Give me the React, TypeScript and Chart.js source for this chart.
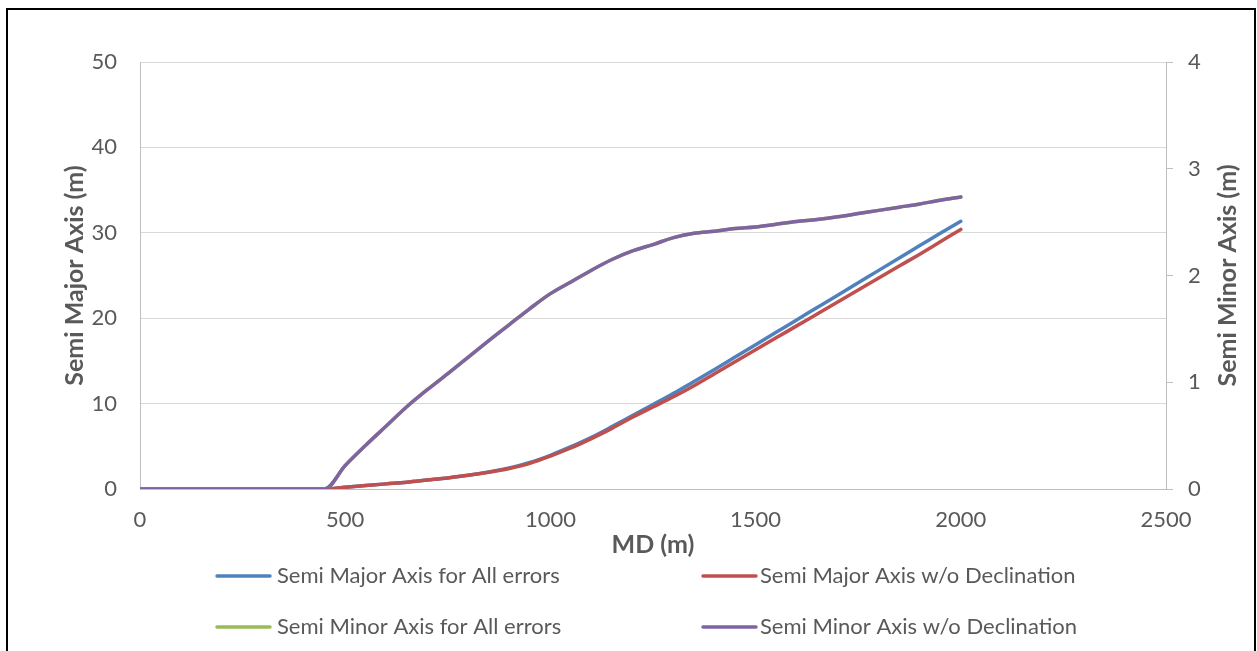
import React, { useEffect, useRef } from "react";
import { Chart, registerables } from "chart.js";

Chart.register(...registerables);

// Measured depth stations (m)
const md = [
  0, 50, 100, 150, 200, 250, 300, 350, 400, 450,
  500, 550, 600, 650, 700, 750, 800, 850, 900, 950,
  1000, 1050, 1100, 1150, 1200, 1250, 1300, 1350, 1400, 1450,
  1500, 1550, 1600, 1650, 1700, 1750, 1800, 1850, 1900, 1950, 2000,
];

// Semi major axis, all error sources (m) – left axis
const semiMajorAll = [
  0, 0, 0, 0, 0, 0, 0, 0, 0, 0,
  0.2, 0.4, 0.6, 0.8, 1.05, 1.3, 1.6, 1.98, 2.45, 3.1,
  3.95, 4.95, 6.05, 7.3, 8.6, 9.9, 11.2, 12.6, 14.0, 15.45,
  16.9, 18.35, 19.8, 21.25, 22.7, 24.15, 25.6, 27.05, 28.5, 29.95, 31.35,
];

// Semi major axis without declination error (m) – left axis
const semiMajorNoDecl = [
  0, 0, 0, 0, 0, 0, 0, 0, 0, 0,
  0.2, 0.4, 0.6, 0.8, 1.05, 1.3, 1.6, 1.95, 2.4, 3.0,
  3.85, 4.8, 5.9, 7.1, 8.4, 9.6, 10.8, 12.1, 13.5, 14.9,
  16.3, 17.7, 19.1, 20.5, 21.9, 23.3, 24.7, 26.1, 27.5, 28.95, 30.4,
];

// Semi minor axis, all error sources (m) – right axis
const semiMinorAll = [
  0, 0, 0, 0, 0, 0, 0, 0, 0, 0,
  0.22, 0.41, 0.59, 0.77, 0.93, 1.08, 1.235, 1.39, 1.54, 1.69,
  1.83, 1.94, 2.05, 2.15, 2.23, 2.29, 2.355, 2.395, 2.415, 2.44,
  2.455, 2.48, 2.505, 2.525, 2.55, 2.58, 2.61, 2.64, 2.67, 2.705, 2.735,
];

// Semi minor axis without declination error (m) – right axis
const semiMinorNoDecl = [
  0, 0, 0, 0, 0, 0, 0, 0, 0, 0,
  0.22, 0.41, 0.59, 0.77, 0.93, 1.08, 1.235, 1.39, 1.54, 1.69,
  1.83, 1.94, 2.05, 2.15, 2.23, 2.29, 2.355, 2.395, 2.415, 2.44,
  2.455, 2.48, 2.505, 2.525, 2.55, 2.58, 2.61, 2.64, 2.67, 2.705, 2.735,
];

const seriesLabels = [
  "Semi Major Axis for All errors",
  "Semi Major Axis w/o Declination",
  "Semi Minor Axis for All errors",
  "Semi Minor Axis w/o Declination",
];

const xTitle = "MD (m)";
const yLeftTitle = "Semi Major Axis (m)";
const yRightTitle = "Semi Minor Axis (m)";

const FONT = "Lato, 'Open Sans', sans-serif";
const TEXT = "#595959";

const toPoints = (ys: number[]) => md.map((x, i) => ({ x, y: ys[i] }));
const plain = (v: any) => String(v);

// Axis titles and a two-column legend below the plot
const decorations = {
  id: "decorations",
  afterDraw(chart: any) {
    const { ctx, chartArea } = chart;
    const midY = (chartArea.top + chartArea.bottom) / 2;
    ctx.save();
    ctx.fillStyle = TEXT;
    ctx.font = `bold 25px ${FONT}`;
    ctx.textAlign = "center";
    ctx.textBaseline = "middle";

    ctx.save();
    ctx.translate(75, midY);
    ctx.rotate(-Math.PI / 2);
    ctx.fillText(yLeftTitle, 0, 0);
    ctx.restore();

    ctx.save();
    ctx.translate(1228, midY);
    ctx.rotate(-Math.PI / 2);
    ctx.fillText(yRightTitle, 0, 0);
    ctx.restore();

    ctx.fillText(xTitle, (chartArea.left + chartArea.right) / 2, 545);

    const slots = [
      { lx: 217, tx: 277, y: 576 },
      { lx: 703, tx: 760, y: 576 },
      { lx: 217, tx: 277, y: 627 },
      { lx: 703, tx: 760, y: 627 },
    ];
    ctx.font = `22px ${FONT}`;
    ctx.textAlign = "left";
    chart.data.datasets.forEach((ds: any, i: number) => {
      const s = slots[i];
      ctx.strokeStyle = ds.borderColor;
      ctx.lineWidth = 3.5;
      ctx.lineCap = "round";
      ctx.beginPath();
      ctx.moveTo(s.lx, s.y);
      ctx.lineTo(s.lx + 53, s.y);
      ctx.stroke();
      ctx.fillStyle = TEXT;
      ctx.fillText(ds.label, s.tx, s.y);
    });
    ctx.restore();
  },
};

export default function App() {
  const canvasRef = useRef<HTMLCanvasElement | null>(null);

  useEffect(() => {
    document.body.style.margin = "0";
    const canvas = canvasRef.current;
    if (!canvas) return;

    const line = (label: string, data: number[], color: string, axis: string, order: number) => ({
      label,
      data: toPoints(data),
      borderColor: color,
      backgroundColor: color,
      borderWidth: 3.5,
      pointRadius: 0,
      cubicInterpolationMode: "monotone" as const,
      borderCapStyle: "round" as const,
      yAxisID: axis,
      order,
    });

    const chart = new Chart(canvas, {
      type: "line",
      data: {
        datasets: [
          line(seriesLabels[0], semiMajorAll, "#4F81BD", "yLeft", 4),
          line(seriesLabels[1], semiMajorNoDecl, "#C0504D", "yLeft", 3),
          line(seriesLabels[2], semiMinorAll, "#9BBB59", "yRight", 2),
          line(seriesLabels[3], semiMinorNoDecl, "#8064A2", "yRight", 1),
        ],
      },
      options: {
        responsive: false,
        animation: false,
        devicePixelRatio: 1,
        layout: { padding: { top: 62, left: 0, right: 0, bottom: 0 } },
        plugins: {
          legend: { display: false },
          title: { display: false },
          tooltip: { enabled: false },
        },
        scales: {
          x: {
            type: "linear",
            min: 0,
            max: 2500,
            ticks: {
              stepSize: 500,
              color: TEXT,
              font: { family: FONT, size: 22 },
              padding: 18,
              maxRotation: 0,
              callback: plain,
            },
            grid: { drawOnChartArea: false, drawTicks: false },
            border: { display: true, color: "#BFBFBF", width: 1 },
            afterFit: (s: any) => {
              s.height = 162;
            },
          },
          yLeft: {
            type: "linear",
            position: "left",
            min: 0,
            max: 50,
            ticks: {
              stepSize: 10,
              color: TEXT,
              font: { family: FONT, size: 22 },
              padding: 23,
              callback: plain,
            },
            grid: { color: "#D9D9D9", lineWidth: 1, drawTicks: false },
            border: { display: true, color: "#BFBFBF", width: 1 },
            afterFit: (s: any) => {
              s.width = 140;
            },
          },
          yRight: {
            type: "linear",
            position: "right",
            min: 0,
            max: 4,
            ticks: {
              stepSize: 1,
              color: TEXT,
              font: { family: FONT, size: 22 },
              padding: 15,
              callback: plain,
            },
            grid: {
              drawOnChartArea: false,
              drawTicks: true,
              tickLength: 7,
              color: "#BFBFBF",
            },
            border: { display: true, color: "#BFBFBF", width: 1 },
            afterFit: (s: any) => {
              s.width = 91;
            },
          },
        },
      },
      plugins: [decorations],
    });

    return () => chart.destroy();
  }, []);

  return (
    <div style={{ position: "relative", width: 1257, height: 651, overflow: "hidden", background: "#fff" }}>
      <canvas ref={canvasRef} width={1257} height={651} style={{ position: "absolute", left: 0, top: 0 }} />
      <div
        style={{
          position: "absolute",
          left: 6,
          top: 8,
          width: 1250,
          height: 700,
          border: "2px solid #000",
          boxSizing: "border-box",
          pointerEvents: "none",
        }}
      />
    </div>
  );
}
